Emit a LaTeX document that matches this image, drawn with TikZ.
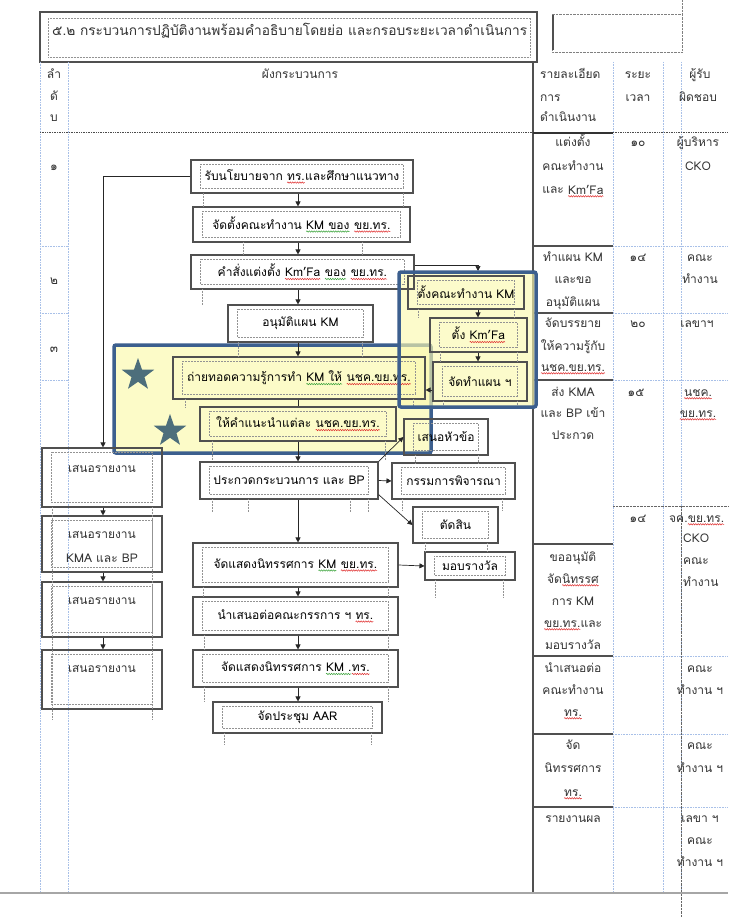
\documentclass[tikz,border=0pt]{standalone}
\usepackage{fontspec}
\setmainfont{Loma}[Script=Thai]
\usetikzlibrary{shapes.geometric,decorations.pathmorphing,arrows.meta,calc}
\definecolor{frameblue}{HTML}{3C5F8E}
\definecolor{hiyel}{HTML}{FCFBC8}
\definecolor{hiyelb}{HTML}{FBF9B0}
\definecolor{starc}{HTML}{4D6E7B}
\definecolor{bordgray}{HTML}{505050}
\definecolor{dotblue}{HTML}{A8C0E8}
\definecolor{sqred}{HTML}{E03030}
\definecolor{sqgreen}{HTML}{3AA33A}
\newcounter{tcnt}
\newcommand\tl[4][base]{\stepcounter{tcnt}\node[txt,anchor=#1] (tx\arabic{tcnt}) at (#2,{#3+4}) {#4};}
\newcommand\wv[2]{\tikz[baseline=(wvt.base)]{\node[shape=rectangle,inner sep=0pt,outer sep=0pt,minimum width=0pt,minimum height=0pt,draw=none,fill=none,anchor=center](wvt){#2};\draw[#1,line width=0.5pt,decorate,decoration={snake,amplitude=0.7pt,segment length=2.4pt}]([yshift=-2.3pt]wvt.base west)--([yshift=-2.3pt]wvt.base east);}}
\newcommand\fb[6]{\node[fbox,minimum width={#4-#2},minimum height={#5-#3}] (#1) at ({(#2+#4)/2},{(#3+#5)/2}) {#6};
\draw[inner] ([xshift=10pt,yshift=-5pt]#1.north west) rectangle ([xshift=-10pt,yshift=5pt]#1.south east);}
\begin{document}
\begin{tikzpicture}[x=1pt,y=-1pt,font=\fontsize{12}{14}\selectfont,
  fbox/.style={draw=bordgray,line width=1.1pt,inner sep=0pt,fill=none},
  inner/.style={draw=gray!85,densely dotted,line width=0.5pt},
  arr/.style={-{Triangle[length=5pt,width=5pt]},line width=0.7pt,draw=black!85},
  ln/.style={line width=0.7pt,draw=black!85},
  tline/.style={draw=dotblue,densely dotted,line width=0.6pt},
  txt/.style={inner sep=0pt,text=black!80},
  frame/.style={draw=frameblue,line width=3.5pt,rounded corners=2pt},
  starn/.style={star,star points=5,star point ratio=2.5,fill=starc,minimum size=34pt,inner sep=0pt}]
\fill[white] (0,0) rectangle (728,917);
\useasboundingbox (0,0) rectangle (728,917);
% ---------- title
\draw[bordgray,line width=1.3pt] (40,12) rectangle (537,62);
\draw[inner] (48,18) rectangle (530,57);
\node[txt,anchor=base west,font=\fontsize{13.7}{16}\selectfont] (title) at (52,36) {๕.๒ กระบวนการปฏิบัติงานพร้อมคำอธิบายโดยย่อ และกรอบระยะเวลาดำเนินการ};
\draw[gray,densely dotted] (552,14) rectangle (682,52);
\draw[bordgray,line width=1.2pt] (553,15) -- (553,50);
\draw[gray,densely dotted] (682,0) -- (682,14);
% ---------- table
\foreach \x in {40,68,613,663,681} {\draw[tline] (\x,62) -- (\x,893);}
\draw[bordgray,line width=1.3pt] (533,62) -- (533,893);
\draw[black!70,densely dotted,line width=0.7pt] (40,132) -- (728,132);
\draw[black!80,line width=1.2pt] (533,133) -- (613,133);
\foreach \y in {246,313,380,544,656,734,807} {\draw[bordgray,line width=1.3pt] (533,\y) -- (613,\y);}
\foreach \y in {246,313,380,656,734,807} {\draw[tline] (613,\y) -- (728,\y);}
\foreach \y in {246,313,380} {\draw[tline] (40,\y) -- (68,\y);}
\draw[black!60,densely dotted] (613,506) -- (728,506);
\draw[black!60,densely dotted] (681,506) -- (681,917);
\draw[gray!70,line width=1.2pt] (0,893) -- (728,893);
% header
\tl{54}{75}{ลำ} \tl{54}{97}{ดั} \tl{54}{118}{บ}
\tl{300}{75}{ผังกระบวนการ}
\tl[base west]{540}{75}{รายละเอียด} \tl[base west]{540}{98}{การ} \tl[base west]{540}{118}{ดำเนินงาน}
\tl{638}{75}{ระยะ} \tl{638}{98}{เวลา}
\tl{700}{75}{ผู้รับ} \tl{698}{98}{ผิดชอบ}
% row numbers
\tl{54}{167}{๑} \tl{54}{280}{๒} \tl{54}{348}{๓}
% details
\tl{573}{143}{แต่งตั้ง} \tl{573}{167}{คณะทำงาน} \tl{573}{190}{และ \wv{sqred}{Km’Fa}}
\tl{638}{143}{๑๐} \tl{698}{143}{ผู้บริหาร} \tl{698}{167}{CKO}
\tl{573}{257}{ทำแผน KM} \tl{573}{279}{และขอ} \tl{573}{302}{อนุมัติแผน}
\tl{638}{257}{๑๔} \tl{700}{257}{คณะ} \tl{700}{279}{ทำงาน}
\tl{573}{323}{จัดบรรยาย} \tl{573}{346}{ให้ความรู้กับ} \tl{573}{367}{\wv{sqred}{นชค.ขย.ทร.}}
\tl{638}{323}{๒๐} \tl{697}{323}{เลขาฯ}
\tl{573}{392}{ส่ง KMA} \tl{573}{413}{และ BP เข้า} \tl{573}{435}{ประกวด}
\tl{636}{392}{๑๕} \tl{698}{392}{\wv{sqred}{นชค.}} \tl{698}{413}{\wv{sqred}{ขย.ทร.}}
\tl{638}{518}{๑๔} \tl[base west]{669}{518}{จค.\wv{sqred}{ขย.ทร.}}
\tl[base west]{683}{538}{CKO} \tl[base west]{683}{560}{คณะ} \tl[base west]{683}{582}{ทำงาน}
\tl{573}{557}{ขออนุมัติ} \tl{573}{579}{จัด\wv{sqred}{นิทรรศ}} \tl{573}{601}{การ KM}
\tl{573}{623}{\wv{sqred}{ขย.ทร.}และ} \tl{573}{645}{มอบรางวัล}
\tl{573}{668}{นำเสนอต่อ} \tl{573}{690}{คณะทำงาน} \tl{573}{712}{\wv{sqred}{ทร.}}
\tl{700}{668}{คณะ} \tl{700}{690}{ทำงาน ฯ}
\tl{573}{745}{จัด} \tl{573}{768}{นิทรรศการ} \tl{573}{792}{\wv{sqred}{ทร.}}
\tl{700}{745}{คณะ} \tl{700}{768}{ทำงาน ฯ}
\tl{573}{818}{รายงานผล}
\tl{700}{818}{เลขา ฯ} \tl{700}{840}{คณะ} \tl{700}{862}{ทำงาน ฯ}
% ---------- highlight frames (fills)
\fill[hiyel,rounded corners=2pt] (114,345) rectangle (431,453);
\draw[frame] (114,345) rectangle (431,453);
\fill[hiyelb,fill opacity=0.65,rounded corners=2pt] (399,272) rectangle (536,407);
% ---------- flow boxes
\fb{B1}{191}{160}{413}{193}{รับนโยบายจาก \wv{sqred}{ทร.}และศึกษาแนวทาง}
\fb{B2}{193}{207}{410}{242}{จัดตั้งคณะทำงาน \wv{sqgreen}{KM ของ} \wv{sqred}{ขย.ทร.}}
\fb{B3}{191}{255}{414}{289}{คำสั่งแต่งตั้ง \wv{sqred}{Km’Fa} \wv{sqgreen}{ของ} \wv{sqred}{ขย.ทร.}}
\fb{B4}{228}{305}{373}{342}{อนุมัติแผน KM}
\fb{B5}{173}{357}{425}{399}{ถ่ายทอดความรู้การทำ \wv{sqgreen}{KM ให้} \wv{sqred}{นชค.ขย.ทร.}}
\fb{B6}{200}{407}{396}{441}{ให้คำแนะนำแต่ละ \wv{sqred}{นชค.ขย.ทร.}}
\fb{B7}{200}{462}{378}{499}{ประกวดกระบวนการ และ BP}
\fb{B8}{193}{543}{398}{587}{จัดแสดงนิทรรศการ \wv{sqgreen}{KM} \wv{sqred}{ขย.ทร.}}
\fb{B9}{193}{597}{398}{635}{นำเสนอต่อคณะกรรการ ฯ \wv{sqred}{ทร.}}
\fb{B10}{193}{650}{398}{687}{จัดแสดงนิทรรศการ \wv{sqgreen}{KM .}\wv{sqred}{ทร.}}
\fb{B11}{213}{702}{382}{733}{จัดประชุม AAR}
\fb{W1}{404}{419}{488}{455}{เสนอหัวข้อ}
\fb{W2}{392}{463}{515}{499}{กรรมการพิจารณา}
\fb{W3}{413}{507}{498}{543}{ตัดสิน}
\fb{W4}{425}{552}{515}{580}{มอบรางวัล}
\fb{Y1}{408}{276}{524}{309}{ตั้งคณะทำงาน KM}
\fb{Y2}{430}{318}{527}{352}{ตั้ง \wv{sqred}{Km’Fa}}
\fb{Y3}{433}{362}{527}{401}{จัดทำแผน ฯ}
\fb{L1}{42}{448}{162}{507}{}
\fb{L2}{42}{516}{162}{572}{}
\fb{L3}{42}{582}{162}{637}{}
\fb{L4}{42}{650}{162}{709}{}
\tl{102}{468}{เสนอรายงาน}
\tl{102}{534}{เสนอรายงาน} \tl{102}{558}{KMA และ BP}
\tl{102}{600}{เสนอรายงาน}
\tl{102}{668}{เสนอรายงาน}
% dotted text-frame extensions
\foreach \x/\a/\b in {203/193/207,403/193/207,243/242/255,362/242/255,202/289/305,238/342/357,362/342/357,
  185/399/407,413/399/407,212/441/460,385/441/460,212/499/512,248/499/512,350/499/512,368/499/512,
  203/587/597,388/587/597,204/635/650,388/635/650,204/687/702,388/687/702,224/733/745,371/733/745,
  415/455/463,478/455/463,402/499/510,502/499/510,425/543/552,487/543/552,435/580/598,503/580/598,
  418/309/318,514/309/318,440/352/362,517/352/362,443/401/407,517/401/407,52/507/720,152/507/720}
  {\draw[inner] (\x,\a) -- (\x,\b);}
% ---------- connectors
\coordinate (ax) at (298,0);
\coordinate (axl) at (103,0);
\coordinate (ay) at (478,0);
\draw[arr] (B1.west) -| (axl |- L1.north);
\draw[arr] (B1.south -| ax) -- (B2.north -| ax);
\draw[arr] (B2.south -| ax) -- (B3.north -| ax);
\draw[arr] (B3.south -| ax) -- (B4.north -| ax);
\draw[arr] (B4.south -| ax) -- (B5.north -| ax);
\draw[ln] (B5.south -| ax) -- (B6.north -| ax);
\draw[arr] (B6.south -| ax) -- (B7.north -| ax);
\draw[arr] (B7.south -| ax) -- (B8.north -| ax);
\draw[arr] (B8.south -| ax) -- (B9.north -| ax);
\draw[arr] (B9.south -| ax) -- (B10.north -| ax);
\draw[arr] (B10.south -| ax) -- (B11.north -| ax);
\draw[arr] (L1.south -| axl) -- (L2.north -| axl);
\draw[arr] (L2.south -| axl) -- (L3.north -| axl);
\draw[arr] (L3.south -| axl) -- (L4.north -| axl);
\coordinate (c265) at (0,265);
\coordinate (y1in) at (478,271);
\draw[arr] (B3.east |- c265) -| (y1in);
\draw[arr] (Y1.south -| ay) -- (Y2.north -| ay);
\draw[arr] (Y2.south -| ay) -- (Y3.north -| ay);
\coordinate (c390) at (0,390);
\draw[arr] (Y3.west |- c390) -- (B5.east |- c390);
\draw[arr] (B7.north east) -- (W1.west);
\draw[arr] (B7.east) -- (W2.west);
\draw[arr] ([yshift=5pt]B7.south east) -- (W3.west);
\draw[arr] (B8.east) -- (W4.west);
% ---------- frame 2 border and stars
\draw[frame] (399,272) rectangle (536,407);
\node[starn] (s1) at (138,375) {};
\node[starn] (s2) at (170,431) {};
\end{tikzpicture}
\end{document}
